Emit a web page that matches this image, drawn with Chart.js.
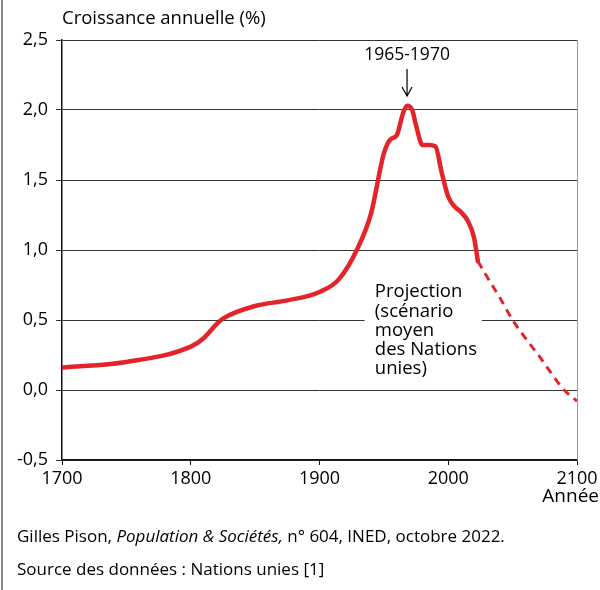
<!DOCTYPE html>
<html>
<head>
<meta charset="utf-8">
<script src="https://cdn.jsdelivr.net/npm/chart.js@4"></script>
<style>
  html, body { margin: 0; padding: 0; background: #fff; }
  #wrap { width: 600px; height: 590px; }
</style>
</head>
<body>
<div id="wrap"><canvas id="chart"></canvas></div>
<script>
// observed annual growth (%)
const obsYears = [1700, 1750, 1800, 1810, 1820, 1825, 1850, 1875, 1900, 1915, 1930, 1940, 1950, 1955, 1960, 1965, 1968, 1972, 1975, 1980, 1985, 1990, 1995, 2000, 2005, 2010, 2015, 2020, 2023];
const obsGrowth = [0.16, 0.20, 0.31, 0.37, 0.47, 0.51, 0.60, 0.64, 0.70, 0.79, 1.02, 1.26, 1.69, 1.79, 1.82, 1.98, 2.03, 2.00, 1.89, 1.75, 1.75, 1.74, 1.55, 1.38, 1.31, 1.27, 1.21, 1.09, 0.92];
// UN medium scenario projection
const projYears = [2023, 2030, 2040, 2050, 2060, 2070, 2080, 2090, 2100];
const projGrowth = [0.92, 0.81, 0.66, 0.50, 0.37, 0.25, 0.12, 0.00, -0.08];

const yTicks = [-0.5, 0, 0.5, 1, 1.5, 2, 2.5];
const xTicks = [1700, 1800, 1900, 2000, 2100];

const FONT = '"Open Sans", sans-serif';
const RED = '#e3242b';
const INK = '#000';

const toPts = (xs, ys) => xs.map((x, i) => ({ x: x, y: ys[i] }));
const fmt = v => v.toFixed(1).replace('.', ',');

const extras = {
  id: 'extras',
  beforeDraw(chart) {
    const { ctx } = chart;
    ctx.save();
    ctx.fillStyle = '#fff';
    ctx.fillRect(0, 0, chart.width, chart.height);
    ctx.restore();
  },
  beforeDatasetsDraw(chart) {
    const { ctx, scales: { x, y } } = chart;
    ctx.save();
    // white box behind projection note (cuts the 0,5 gridline)
    const x0 = x.getPixelForValue(1935), x1 = x.getPixelForValue(2026);
    ctx.fillStyle = '#fff';
    ctx.fillRect(x0, y.getPixelForValue(0.55), x1 - x0, 14);
    ctx.restore();
  },
  afterDraw(chart) {
    const { ctx, chartArea: a, scales: { x, y } } = chart;
    ctx.save();
    // frame: left page rule and right plot edge
    ctx.strokeStyle = '#888';
    ctx.lineWidth = 2;
    ctx.beginPath();
    ctx.moveTo(2, 0); ctx.lineTo(2, chart.height);
    ctx.stroke();
    ctx.lineWidth = 1;
    ctx.strokeStyle = '#999';
    ctx.beginPath();
    ctx.moveTo(a.right + 0.5, a.top); ctx.lineTo(a.right + 0.5, a.bottom);
    ctx.stroke();

    ctx.fillStyle = INK;
    ctx.textBaseline = 'middle';
    ctx.font = '18.5px ' + FONT;
    ctx.textAlign = 'left';
    ctx.fillText('Croissance annuelle (%)', a.left, 19);
    ctx.font = '19px ' + FONT;
    ctx.textAlign = 'right';
    ctx.fillText('Année', 599, 497);

    // peak label + arrow
    const px = x.getPixelForValue(1968);
    ctx.font = '17.5px ' + FONT;
    ctx.textAlign = 'center';
    ctx.fillText('1965-1970', px, 55);
    ctx.strokeStyle = INK;
    ctx.lineWidth = 1.2;
    const ay0 = 69, ay1 = y.getPixelForValue(2.1);
    ctx.beginPath();
    ctx.moveTo(px, ay0); ctx.lineTo(px, ay1);
    ctx.moveTo(px - 5, ay1 - 9); ctx.lineTo(px, ay1); ctx.lineTo(px + 5, ay1 - 9);
    ctx.stroke();

    // projection note
    const lines = ['Projection', '(scénario', 'moyen', 'des Nations', 'unies)'];
    ctx.font = '18.5px ' + FONT;
    ctx.textAlign = 'left';
    const left = x.getPixelForValue(1943);
    lines.forEach((t, i) => ctx.fillText(t, left, y.getPixelForValue(0.7) + i * 19.3));

    // source lines
    let cx = 17;
    const parts = [['Gilles Pison, ', ''], ['Population & Sociétés,', 'italic '], [' n° 604, INED, octobre 2022.', '']];
    parts.forEach(([t, st]) => {
      ctx.font = st + '17px ' + FONT;
      ctx.fillText(t, cx, 537);
      cx += ctx.measureText(t).width;
    });
    ctx.font = '17px ' + FONT;
    ctx.fillText('Source des données : Nations unies [1]', 17, 570);
    ctx.restore();
  }
};

new Chart(document.getElementById('chart'), {
  type: 'line',
  data: {
    datasets: [{
      data: toPts(obsYears, obsGrowth),
      borderColor: RED,
      borderWidth: 4.5,
      pointRadius: 0,
      cubicInterpolationMode: 'monotone',
      borderCapStyle: 'round'
    }, {
      data: toPts(projYears, projGrowth),
      borderColor: RED,
      borderWidth: 3,
      borderDash: [8, 6],
      pointRadius: 0,
      cubicInterpolationMode: 'monotone'
    }]
  },
  options: {
    responsive: true,
    maintainAspectRatio: false,
    animation: false,
    layout: { padding: { top: 40, right: 23, left: 0, bottom: 0 } },
    plugins: { legend: { display: false }, tooltip: { enabled: false } },
    scales: {
      x: {
        type: 'linear',
        min: 1700, max: 2100,
        afterBuildTicks: s => { s.ticks = xTicks.map(v => ({ value: v })); },
        afterFit: s => { s.height = 130; s.paddingLeft = 0; s.paddingRight = 0; },
        border: { color: '#111', width: 1.5 },
        grid: { drawOnChartArea: false, drawTicks: true, tickLength: 5, color: '#111' },
        ticks: { color: INK, font: { family: FONT, size: 18 }, padding: 3, maxRotation: 0, callback: v => String(v) }
      },
      y: {
        min: -0.5, max: 2.5,
        afterBuildTicks: s => { s.ticks = yTicks.map(v => ({ value: v })); },
        afterFit: s => { s.width = 62; s.paddingTop = 0; s.paddingBottom = 0; },
        border: { color: '#111', width: 1.5 },
        grid: { color: '#333', lineWidth: 1, tickLength: 6 },
        ticks: { color: INK, font: { family: FONT, size: 18 }, padding: 8, callback: v => fmt(v) }
      }
    }
  },
  plugins: [extras]
});
</script>
</body>
</html>
